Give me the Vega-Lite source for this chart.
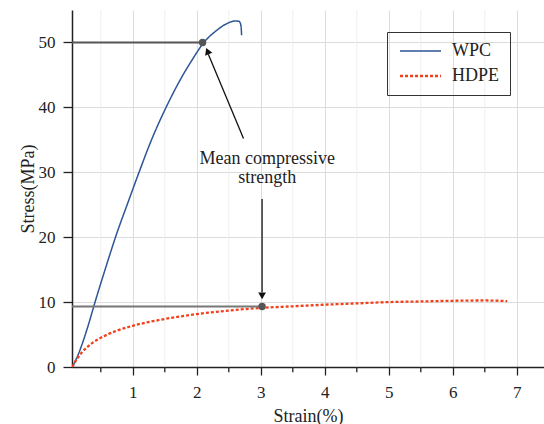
{
  "$schema": "https://vega.github.io/schema/vega-lite/v6.json",
  "width": 472,
  "height": 357,
  "autosize": {"type": "none"},
  "padding": {"left": 72, "top": 10, "right": 0, "bottom": 57},
  "background": "white",
  "config": {
    "font": "Liberation Serif",
    "view": {"stroke": null},
    "axis": {
      "labelFont": "Liberation Serif",
      "labelFontSize": 17,
      "labelColor": "#222",
      "titleFont": "Liberation Serif",
      "titleFontSize": 18,
      "titleFontWeight": "normal",
      "titleColor": "#222",
      "domainColor": "#222",
      "domainWidth": 1.5,
      "tickColor": "#222",
      "tickWidth": 1.3,
      "labelOverlap": false
    },
    "legend": {
      "labelFont": "Liberation Serif",
      "labelFontSize": 18,
      "labelColor": "#222"
    }
  },
  "datasets": {
    "curves": [
      {"material": "WPC", "strain": 0.055, "stress": 0},
      {"material": "WPC", "strain": 0.1, "stress": 0.9},
      {"material": "WPC", "strain": 0.15, "stress": 2.0},
      {"material": "WPC", "strain": 0.2, "stress": 3.3},
      {"material": "WPC", "strain": 0.3, "stress": 6.3},
      {"material": "WPC", "strain": 0.41, "stress": 10},
      {"material": "WPC", "strain": 0.57, "stress": 15.1},
      {"material": "WPC", "strain": 0.74, "stress": 20.3},
      {"material": "WPC", "strain": 0.93, "stress": 25.5},
      {"material": "WPC", "strain": 1.09, "stress": 29.8},
      {"material": "WPC", "strain": 1.28, "stress": 34.7},
      {"material": "WPC", "strain": 1.52, "stress": 40.0},
      {"material": "WPC", "strain": 1.82, "stress": 45.6},
      {"material": "WPC", "strain": 1.92, "stress": 47.2},
      {"material": "WPC", "strain": 2.01, "stress": 48.6},
      {"material": "WPC", "strain": 2.09, "stress": 49.75},
      {"material": "WPC", "strain": 2.18, "stress": 50.75},
      {"material": "WPC", "strain": 2.29, "stress": 51.7},
      {"material": "WPC", "strain": 2.44, "stress": 52.75},
      {"material": "WPC", "strain": 2.6, "stress": 53.3},
      {"material": "WPC", "strain": 2.66, "stress": 53.25},
      {"material": "WPC", "strain": 2.69, "stress": 52.6},
      {"material": "WPC", "strain": 2.7, "stress": 51.1},
      {"material": "HDPE", "strain": 0.055, "stress": 0},
      {"material": "HDPE", "strain": 0.1, "stress": 0.8},
      {"material": "HDPE", "strain": 0.15, "stress": 1.55},
      {"material": "HDPE", "strain": 0.2, "stress": 2.2},
      {"material": "HDPE", "strain": 0.28, "stress": 3.0},
      {"material": "HDPE", "strain": 0.38, "stress": 3.8},
      {"material": "HDPE", "strain": 0.5, "stress": 4.5},
      {"material": "HDPE", "strain": 0.75, "stress": 5.6},
      {"material": "HDPE", "strain": 1.0, "stress": 6.35},
      {"material": "HDPE", "strain": 1.5, "stress": 7.4},
      {"material": "HDPE", "strain": 2.0, "stress": 8.15},
      {"material": "HDPE", "strain": 2.5, "stress": 8.7},
      {"material": "HDPE", "strain": 3.0, "stress": 9.1},
      {"material": "HDPE", "strain": 3.5, "stress": 9.35},
      {"material": "HDPE", "strain": 4.0, "stress": 9.6},
      {"material": "HDPE", "strain": 4.5, "stress": 9.8},
      {"material": "HDPE", "strain": 5.0, "stress": 10.0},
      {"material": "HDPE", "strain": 5.5, "stress": 10.1},
      {"material": "HDPE", "strain": 6.0, "stress": 10.2},
      {"material": "HDPE", "strain": 6.5, "stress": 10.25},
      {"material": "HDPE", "strain": 6.85, "stress": 10.15}
    ],
    "minorx": [
      {"v": 0.5}, {"v": 1.5}, {"v": 2.5}, {"v": 3.5}, {"v": 4.5}, {"v": 5.5}, {"v": 6.5}
    ],
    "refs": [
      {"x0": 0.05, "x1": 2.09, "y": 50, "c": "#555555"},
      {"x0": 0.05, "x1": 3.02, "y": 9.32, "c": "#777777"}
    ],
    "shafts": [
      {"x0": 2.73, "y0": 35.2, "x1": 2.18, "y1": 48.2},
      {"x0": 3.02, "y0": 25.9, "x1": 3.02, "y1": 11.5}
    ],
    "heads": [
      {"x": 2.167, "y": 48.66, "a": 338},
      {"x": 3.02, "y": 10.95, "a": 180}
    ],
    "notes": [
      {"x": 3.1, "y": 31.23, "t": "Mean compressive\nstrength"}
    ]
  },
  "layer": [
    {
      "data": {"name": "minorx"},
      "mark": {"type": "rule", "color": "#efefef", "strokeWidth": 1},
      "encoding": {
        "x": {"field": "v", "type": "quantitative"}
      }
    },
    {
      "data": {"name": "minorx"},
      "mark": {"type": "rule", "color": "#222", "strokeWidth": 1.3, "clip": false},
      "encoding": {
        "x": {"field": "v", "type": "quantitative"},
        "y": {"datum": 0},
        "y2": {"datum": -0.8}
      }
    },
    {
      "data": {"name": "curves"},
      "mark": {"type": "line", "interpolate": "monotone", "clip": true},
      "encoding": {
        "x": {
          "field": "strain", "type": "quantitative",
          "scale": {"domain": [0.05, 7.425], "nice": false, "zero": false},
          "axis": {
            "title": "Strain(%)",
            "values": [1, 2, 3, 4, 5, 6, 7],
            "format": "d",
            "grid": true,
            "gridColor": "#dcdcdc",
            "tickSize": 8,
            "labelPadding": 9,
            "titlePadding": 7
          }
        },
        "y": {
          "field": "stress", "type": "quantitative",
          "scale": {"domain": [0, 55], "nice": false},
          "axis": {
            "title": "Stress(MPa)",
            "values": [0, 5, 10, 15, 20, 25, 30, 35, 40, 45, 50],
            "labelExpr": "datum.value % 10 === 0 ? datum.label : ''",
            "grid": true,
            "gridColor": {"condition": {"test": "datum.value % 10 === 0", "value": "#dcdcdc"}, "value": "#efefef"},
            "tickSize": {"condition": {"test": "datum.value % 10 === 0", "value": 9}, "value": 5},
            "labelPadding": 8,
            "titlePadding": 1
          }
        },
        "color": {
          "field": "material", "type": "nominal",
          "scale": {"domain": ["WPC", "HDPE"], "range": ["#2d5597", "#f0401c"]},
          "legend": {
            "title": null,
            "orient": "none",
            "legendX": 315,
            "legendY": 22,
            "strokeColor": "#333",
            "padding": 10,
            "symbolType": "M-1.2,0H7",
            "symbolSize": 100,
            "symbolStrokeWidth": 2,
            "labelOffset": 37,
            "rowPadding": 7
          }
        },
        "strokeDash": {
          "field": "material", "type": "nominal",
          "scale": {"domain": ["WPC", "HDPE"], "range": [[1, 0], [3, 2]]},
          "legend": null
        },
        "strokeWidth": {
          "field": "material", "type": "nominal",
          "scale": {"domain": ["WPC", "HDPE"], "range": [1.5, 2.3]},
          "legend": null
        }
      }
    },
    {
      "data": {"name": "refs"},
      "mark": {"type": "rule", "strokeWidth": 2},
      "encoding": {
        "x": {"field": "x0", "type": "quantitative"},
        "x2": {"field": "x1"},
        "y": {"field": "y", "type": "quantitative"},
        "color": {"field": "c", "type": "nominal", "scale": null, "legend": null}
      }
    },
    {
      "data": {"name": "shafts"},
      "mark": {"type": "rule", "strokeWidth": 1.3, "color": "#111"},
      "encoding": {
        "x": {"field": "x0", "type": "quantitative"},
        "x2": {"field": "x1"},
        "y": {"field": "y0", "type": "quantitative"},
        "y2": {"field": "y1"}
      }
    },
    {
      "data": {"name": "heads"},
      "mark": {"type": "point", "shape": "triangle-up", "filled": true, "size": 60, "color": "#111", "opacity": 1},
      "encoding": {
        "x": {"field": "x", "type": "quantitative"},
        "y": {"field": "y", "type": "quantitative"},
        "angle": {"field": "a", "type": "quantitative", "scale": null}
      }
    },
    {
      "data": {"name": "refs"},
      "mark": {"type": "point", "shape": "circle", "filled": true, "size": 55, "color": "#555555", "opacity": 1},
      "encoding": {
        "x": {"field": "x1", "type": "quantitative"},
        "y": {"field": "y", "type": "quantitative"}
      }
    },
    {
      "data": {"name": "notes"},
      "mark": {"type": "text", "align": "center", "baseline": "alphabetic", "lineBreak": "\n", "lineHeight": 19, "fontSize": 18, "color": "#222", "font": "Liberation Serif"},
      "encoding": {
        "x": {"field": "x", "type": "quantitative"},
        "y": {"field": "y", "type": "quantitative"},
        "text": {"field": "t", "type": "nominal"}
      }
    },
    {
      "mark": {"type": "rule", "color": "#555555", "strokeWidth": 2},
      "encoding": {"y": {"datum": 55}}
    }
  ]
}
